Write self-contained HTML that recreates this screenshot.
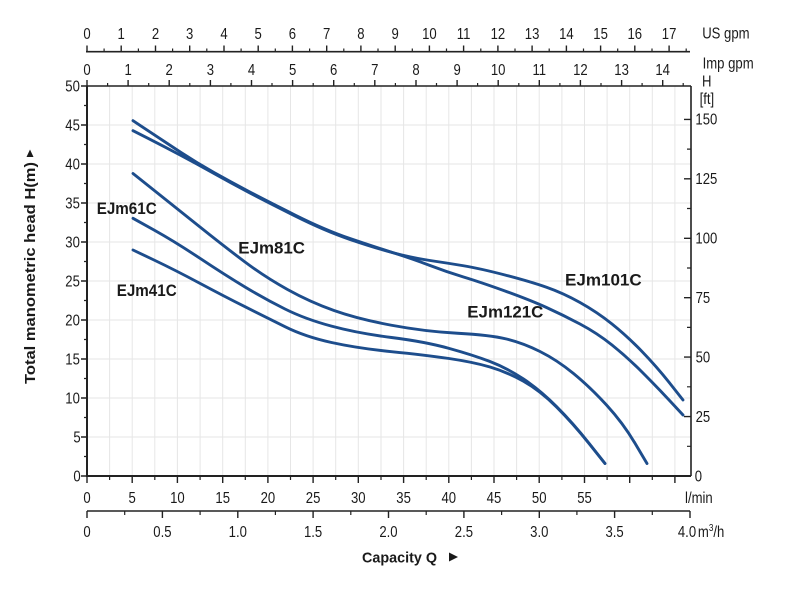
<!DOCTYPE html>
<html><head><meta charset="utf-8"><style>
html,body{margin:0;padding:0;background:#fff;}
svg{display:block;}
text{font-family:"Liberation Sans",Arial,sans-serif;fill:#1a1a1a;}
.t{font-size:16px;transform:scaleX(0.82);transform-box:fill-box;transform-origin:center;}
.b{font-weight:bold;}
</style></head><body>
<svg width="797" height="592" viewBox="0 0 797 592" xmlns="http://www.w3.org/2000/svg">
<rect width="797" height="592" fill="#fff"/>
<!-- grid -->
<g stroke="#e6e6e6" stroke-width="1">
<path d="M109.6,86V476M132.2,86V476M154.8,86V476M177.4,86V476M200.1,86V476M222.7,86V476M245.3,86V476M267.9,86V476M290.5,86V476M313.1,86V476M335.7,86V476M358.3,86V476M381,86V476M403.6,86V476M426.2,86V476M448.8,86V476M471.4,86V476M494,86V476M516.6,86V476M539.2,86V476M561.9,86V476M584.5,86V476M607.1,86V476M629.7,86V476M652.3,86V476M674.9,86V476"/>
<path d="M87,437H691M87,398H691M87,359H691M87,320H691M87,281H691M87,242H691M87,203H691M87,164H691M87,125H691"/>
</g>
<!-- axes -->
<g stroke="#222" fill="none">
<path d="M86,51.7H690" stroke-width="1.6"/>
<path d="M87,86H691" stroke-width="1.6"/>
<path d="M87,86V476" stroke-width="2"/>
<path d="M691,86V476" stroke-width="1.6"/>
<path d="M86,476H691" stroke-width="2"/>
<path d="M87,511H690" stroke-width="1.6"/>
<path stroke-width="1.4" d="M87,51.7V45.5M121.2,51.7V45.5M155.5,51.7V45.5M189.7,51.7V45.5M224,51.7V45.5M258.2,51.7V45.5M292.4,51.7V45.5M326.7,51.7V45.5M360.9,51.7V45.5M395.2,51.7V45.5M429.4,51.7V45.5M463.6,51.7V45.5M497.9,51.7V45.5M532.1,51.7V45.5M566.4,51.7V45.5M600.6,51.7V45.5M634.8,51.7V45.5M669.1,51.7V45.5"/>
<path stroke-width="1.2" d="M104.1,51.7V48.5M138.4,51.7V48.5M172.6,51.7V48.5M206.8,51.7V48.5M241.1,51.7V48.5M275.3,51.7V48.5M309.6,51.7V48.5M343.8,51.7V48.5M378,51.7V48.5M412.3,51.7V48.5M446.5,51.7V48.5M480.8,51.7V48.5M515,51.7V48.5M549.2,51.7V48.5M583.5,51.7V48.5M617.7,51.7V48.5M652,51.7V48.5M686.2,51.7V48.5"/>
<path stroke-width="1.4" d="M87,86V80M128.1,86V80M169.2,86V80M210.4,86V80M251.5,86V80M292.6,86V80M333.7,86V80M374.8,86V80M416,86V80M457.1,86V80M498.2,86V80M539.3,86V80M580.4,86V80M621.6,86V80M662.7,86V80"/>
<path stroke-width="1.2" d="M107.6,86V83M148.7,86V83M189.8,86V83M230.9,86V83M272,86V83M313.2,86V83M354.3,86V83M395.4,86V83M436.5,86V83M477.6,86V83M518.8,86V83M559.9,86V83M601,86V83M642.1,86V83M683.2,86V83"/>
<path stroke-width="1.4" d="M81,476H87M81,437H87M81,398H87M81,359H87M81,320H87M81,281H87M81,242H87M81,203H87M81,164H87M81,125H87M81,86H87"/>
<path stroke-width="1.2" d="M84,456.5H87M84,417.5H87M84,378.5H87M84,339.5H87M84,300.5H87M84,261.5H87M84,222.5H87M84,183.5H87M84,144.5H87M84,105.5H87"/>
<path stroke-width="1.4" d="M684,476H691M684,416.6H691M684,357.1H691M684,297.7H691M684,238.3H691M684,178.8H691M684,119.4H691"/>
<path stroke-width="1.2" d="M687,446.3H691M687,386.8H691M687,327.4H691M687,268H691M687,208.5H691M687,149.1H691"/>
<path stroke-width="1.4" d="M87,476V483M132.2,476V483M177.4,476V483M222.7,476V483M267.9,476V483M313.1,476V483M358.3,476V483M403.6,476V483M448.8,476V483M494,476V483M539.2,476V483M584.5,476V483M629.7,476V483M674.9,476V483"/>
<path stroke-width="1.2" d="M109.6,476V480M154.8,476V480M200.1,476V480M245.3,476V480M290.5,476V480M335.7,476V480M381,476V480M426.2,476V480M471.4,476V480M516.6,476V480M561.9,476V480M607.1,476V480M652.3,476V480"/>
<path stroke-width="1.4" d="M87,511V518M162.4,511V518M237.8,511V518M313.1,511V518M388.5,511V518M463.9,511V518M539.3,511V518M614.6,511V518M690,511V518"/>
<path stroke-width="1.2" d="M124.7,511V515M200.1,511V515M275.4,511V515M350.8,511V515M426.2,511V515M501.6,511V515M576.9,511V515M652.3,511V515"/>
</g>

<!-- curves -->
<g fill="none" stroke="#1d4d8c" stroke-width="2.9" stroke-linecap="round" stroke-linejoin="round">
<path d="M133,120.7 L149,131.35 Q165,142 181,152.5 Q197,163 214,172.5 Q231,182 248,191 Q265,200 295,215 Q325,230 350,238.5 Q375,247 394,253 Q413,259 430,265.5 Q447,272 463.5,277 Q480,282 505,291 Q530,300 546.5,307.5 Q563,315 580,324 Q597,333 612,345 Q627,357 642,372 Q657,387 670,401 L683,415"/>
<path d="M133,130.7 L149,138.85 Q165,147 181,155.5 Q197,164 214,173.5 Q231,183 248,192 Q265,201 295,216 Q325,231 350,239.5 Q375,248 394,253 Q413,258 430,260.5 Q447,263 463.5,265.75 Q480,268.5 505,275 Q530,281.5 546.5,287.25 Q563,293 580,302.5 Q597,312 612,324 Q627,336 642,351.5 Q657,367 670,383.5 L683,400"/>
<path d="M133,173.5 L154,190.25 Q175,207 200,227 Q225,247 245,262 Q265,277 287.5,289.5 Q310,302 334,310.5 Q358,319 391.5,325.25 Q425,331.5 457.5,333.25 Q490,335 506.5,339 Q523,343 540,351.5 Q557,360 573.5,373.5 Q590,387 606.5,405 Q623,423 635,443.25 L647,463.5"/>
<path d="M133,218.3 L154,230 Q175,241.7 200,258.35 Q225,275 245,287 Q265,299 285,309 Q305,319 331.5,326.15 Q358,333.3 391.5,337.5 Q425,341.7 449,348.35 Q473,355 490,361.5 Q507,368 523.5,379 Q540,390 556.5,406.5 Q573,423 589,443.25 L605,463.5"/>
<path d="M133,250 L154,260 Q175,270 200,283.35 Q225,296.7 245,306.7 Q265,316.7 285,326.7 Q305,336.7 331.5,342.5 Q358,348.3 391.5,351.65 Q425,355 449,358.5 Q473,362 490,367 Q507,372 523.5,381.25 Q540,390.5 556.5,407 Q573,423.5 589,443.5 L605,463.5"/>
</g>

<g text-anchor="middle">
<text class="t" x="87" y="39">0</text><text class="t" x="121.2" y="39">1</text><text class="t" x="155.5" y="39">2</text><text class="t" x="189.7" y="39">3</text><text class="t" x="224" y="39">4</text><text class="t" x="258.2" y="39">5</text><text class="t" x="292.4" y="39">6</text><text class="t" x="326.7" y="39">7</text><text class="t" x="360.9" y="39">8</text><text class="t" x="395.2" y="39">9</text><text class="t" x="429.4" y="39">10</text><text class="t" x="463.6" y="39">11</text><text class="t" x="497.9" y="39">12</text><text class="t" x="532.1" y="39">13</text><text class="t" x="566.4" y="39">14</text><text class="t" x="600.6" y="39">15</text><text class="t" x="634.8" y="39">16</text><text class="t" x="669.1" y="39">17</text>
<text class="t" x="87" y="75">0</text><text class="t" x="128.1" y="75">1</text><text class="t" x="169.2" y="75">2</text><text class="t" x="210.4" y="75">3</text><text class="t" x="251.5" y="75">4</text><text class="t" x="292.6" y="75">5</text><text class="t" x="333.7" y="75">6</text><text class="t" x="374.8" y="75">7</text><text class="t" x="416" y="75">8</text><text class="t" x="457.1" y="75">9</text><text class="t" x="498.2" y="75">10</text><text class="t" x="539.3" y="75">11</text><text class="t" x="580.4" y="75">12</text><text class="t" x="621.6" y="75">13</text><text class="t" x="662.7" y="75">14</text>
<text class="t" x="87" y="503">0</text><text class="t" x="132.2" y="503">5</text><text class="t" x="177.4" y="503">10</text><text class="t" x="222.7" y="503">15</text><text class="t" x="267.9" y="503">20</text><text class="t" x="313.1" y="503">25</text><text class="t" x="358.3" y="503">30</text><text class="t" x="403.6" y="503">35</text><text class="t" x="448.8" y="503">40</text><text class="t" x="494" y="503">45</text><text class="t" x="539.2" y="503">50</text><text class="t" x="584.5" y="503">55</text>
<text class="t" x="87" y="537">0</text><text class="t" x="162.4" y="537">0.5</text><text class="t" x="237.8" y="537">1.0</text><text class="t" x="313.1" y="537">1.5</text><text class="t" x="388.5" y="537">2.0</text><text class="t" x="463.9" y="537">2.5</text><text class="t" x="539.3" y="537">3.0</text><text class="t" x="614.6" y="537">3.5</text><text class="t" x="687" y="537">4.0</text>
</g>
<g text-anchor="end">
<text class="t" x="81.5" y="481.5">0</text><text class="t" x="81.5" y="442.5">5</text><text class="t" x="81.5" y="403.5">10</text><text class="t" x="81.5" y="364.5">15</text><text class="t" x="81.5" y="325.5">20</text><text class="t" x="81.5" y="286.5">25</text><text class="t" x="81.5" y="247.5">30</text><text class="t" x="81.5" y="208.5">35</text><text class="t" x="81.5" y="169.5">40</text><text class="t" x="81.5" y="130.5">45</text><text class="t" x="81.5" y="91.5">50</text>
</g>
<g text-anchor="start">
<text class="t" x="694" y="481.5">0</text><text class="t" x="694" y="422">25</text><text class="t" x="694" y="362.5">50</text><text class="t" x="694" y="303">75</text><text class="t" x="693" y="243.5">100</text><text class="t" x="693" y="184">125</text><text class="t" x="693" y="124.5">150</text>
<text class="t" x="701" y="86.5">H</text>
<text class="t" x="698" y="104">[ft]</text>
<text class="t" x="697" y="38.5">US gpm</text>
<text class="t" x="697" y="68.5">Imp gpm</text>
<text class="t" x="682" y="503">l/min</text>
<text class="t" x="695" y="537">m<tspan font-size="10" dy="-6">3</tspan><tspan dy="6">/h</tspan></text>
</g>

<g class="b" font-size="17">
<text x="96.7" y="214" textLength="60" lengthAdjust="spacingAndGlyphs">EJm61C</text>
<text x="238.3" y="253.3" textLength="66.7" lengthAdjust="spacingAndGlyphs">EJm81C</text>
<text x="116.7" y="296" textLength="60" lengthAdjust="spacingAndGlyphs">EJm41C</text>
<text x="467.3" y="317.7" textLength="76" lengthAdjust="spacingAndGlyphs">EJm121C</text>
<text x="565" y="285.3" textLength="76.7" lengthAdjust="spacingAndGlyphs">EJm101C</text>
</g>

<text class="b" font-size="15" transform="translate(35,273) rotate(-90)" text-anchor="middle" textLength="222" lengthAdjust="spacingAndGlyphs">Total manometric head H(m)</text>
<path d="M26.5,157 L33.5,157 L30,149.5 Z" fill="#1a1a1a"/>
<text class="b" font-size="15" x="362" y="562.5" textLength="75" lengthAdjust="spacingAndGlyphs">Capacity Q</text>
<path d="M449,552.5 L449,561.5 L458,557 Z" fill="#1a1a1a"/>
</svg>
</body></html>
